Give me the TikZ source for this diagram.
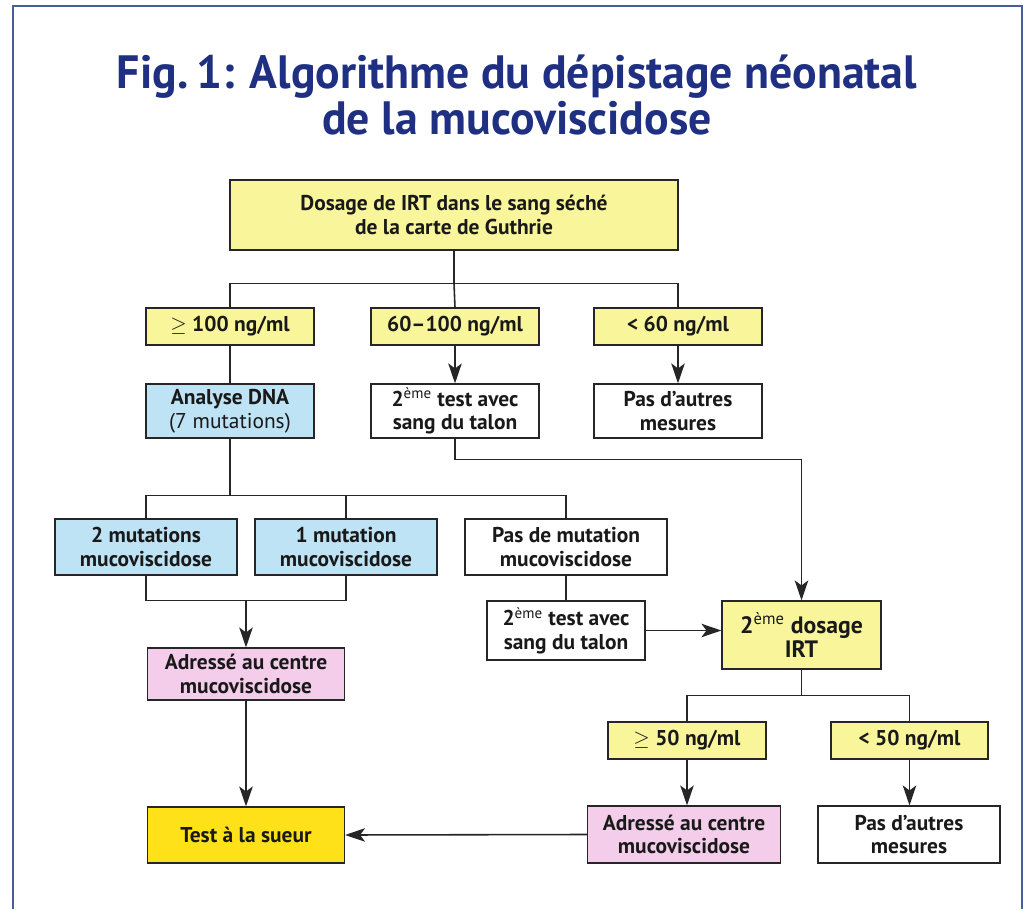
\documentclass[tikz,border=0pt]{standalone}
\usepackage{fontspec}
\setmainfont{PT Sans}
\newfontfamily\titlefont[FakeStretch=0.98]{PT Sans}
\usetikzlibrary{arrows.meta,positioning}
\definecolor{paleyel}{HTML}{F9F59B}
\definecolor{goldyel}{HTML}{FFE11A}
\definecolor{skyblue}{HTML}{BEE3F5}
\definecolor{rosepink}{HTML}{F4CDEA}
\definecolor{titleblue}{HTML}{1F2F82}
\definecolor{framecol}{HTML}{4A5C9A}
\colorlet{ink}{black!85}
\newcommand{\eme}{\textsuperscript{\mdseries ème}}

\begin{document}
\begin{tikzpicture}[
  x=0.02cm, y=-0.02cm,
  font=\bfseries\fontsize{12.2}{13.4}\selectfont,
  heading/.style={font=\titlefont\bfseries\fontsize{26.6}{30}\selectfont, text=titleblue, anchor=base, inner sep=0pt},
  box/.style  ={draw=ink, line width=0.65pt, align=center, inner sep=1pt, text=black!90},
  cond/.style ={box, fill=paleyel, minimum width=3.36cm, minimum height=0.74cm},
  step2/.style={box, minimum height=1.08cm},
  link/.style ={draw=ink, line width=0.9pt},
  arr/.style  ={link, -{Stealth[length=0.4cm, width=0.27cm, inset=0.1cm]}},
]
\useasboundingbox (0,0) rectangle (1025,909);

% frame and title
\draw[framecol, line width=0.9pt] (13,909) -- (13,6) -- (1022,6) -- (1022,909);
\node[heading] (title) at (517,89) {Fig.\,1: Algorithme du dépistage néonatal};
\node[heading] (subtitle) at (517,134) {de la mucoviscidose};

% first dosage and its three results
\node[box, fill=paleyel, minimum width=8.96cm, minimum height=1.4cm] (irt) at (454,215)
  {Dosage de IRT dans le sang séché\\de la carte de Guthrie};
\node[cond] (hi)  at (230,326.5) {$\geq$ 100 ng/ml};
\node[cond] (mid) at (455,326.5) {60--100 ng/ml};
\node[cond] (lo)  at (678,326.5) {< 60 ng/ml};

\node[step2, fill=skyblue, minimum width=3.36cm] (dna) at (230,411)
  {Analyse DNA\\{\mdseries(7 mutations)}};
\node[step2, fill=white, minimum width=3.36cm] (talon) at (455,411)
  {2\eme{} test avec\\sang du talon};
\node[step2, fill=white, minimum width=3.36cm] (stop) at (678,411)
  {Pas d’autres\\mesures};

% DNA results
\node[box, fill=skyblue, minimum width=3.64cm, minimum height=1.12cm] (mutb) at (146,547)
  {2 mutations\\mucoviscidose};
\node[box, fill=skyblue, minimum width=3.64cm, minimum height=1.12cm] (muta) at (346,547)
  {1 mutation\\mucoviscidose};
\node[box, fill=white, minimum width=4.04cm, minimum height=1.12cm] (mutz) at (566,547)
  {Pas de mutation\\mucoviscidose};

\node[box, fill=rosepink, minimum width=3.94cm, minimum height=1.04cm] (centreL) at (246,674)
  {Adressé au centre\\mucoviscidose};
\node[box, fill=goldyel, minimum width=3.94cm, minimum height=1.12cm] (sueur) at (246,835)
  {Test à la sueur};

\node[box, fill=white, minimum width=3.16cm, minimum height=1.18cm] (talonb) at (566,630.5)
  {2\eme{} test avec\\sang du talon};
\node[box, fill=paleyel, minimum width=3.18cm, minimum height=1.36cm] (irtb) at (801.5,635)
  {\fontsize{13.5}{14.5}\selectfont 2\eme{} dosage\\\fontsize{13.5}{14.5}\selectfont IRT};

% second dosage results
\node[cond, minimum width=3.16cm] (hib) at (687,740.5) {$\geq$ 50 ng/ml};
\node[cond, minimum width=3.14cm] (lob) at (909.5,740.5) {< 50 ng/ml};
\node[box, fill=rosepink, minimum width=3.86cm, minimum height=1.14cm] (centreR) at (684,834.5)
  {Adressé au centre\\mucoviscidose};
\node[box, fill=white, minimum width=3.64cm, minimum height=1.14cm] (stopb) at (909,834.5)
  {Pas d’autres\\mesures};

% connectors
\draw[link] (irt.south) -- ++(0,33) coordinate (j1);
\draw[link] (hi.north) |- (j1) -| (lo.north);
\draw[link] (j1) -- (mid.north);
\draw[arr] (mid) -- (talon);
\draw[arr] (lo) -- (stop);
\draw[link] (hi) -- (dna);
\draw[arr] (talon.south) -- ++(0,21) -| (irtb.north);

\draw[link] (dna.south) -- ++(0,57) coordinate (j2);
\draw[link] (mutb.north) |- (j2) -| (mutz.north);
\draw[link] (muta.north) -- (muta.north |- j2);
\draw[link] (mutb.south) -- ++(0,25) coordinate (j3) -| (muta.south);
\draw[arr] (j3 -| centreL.north) -- (centreL.north);
\draw[arr] (centreL) -- (sueur);

\draw[link] (mutz) -- (talonb);
\draw[arr] (talonb.east) -- (talonb.east -| irtb.west);
\draw[link] (irtb.south) -- ++(0,26) coordinate (j4);
\draw[link] (hib.north) |- (j4) -| (lob.north);
\draw[arr] (hib.south) -- (hib.south |- centreR.north);
\draw[arr] (lob.south) -- (lob.south |- stopb.north);
\draw[arr] (centreR.west) -- (sueur.east);
\end{tikzpicture}
\end{document}
